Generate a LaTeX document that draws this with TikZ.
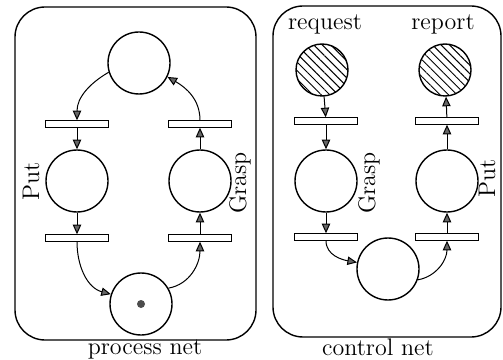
\documentclass[tikz,border=0pt]{standalone}
\usepackage{tikz}
\usetikzlibrary{arrows.meta,patterns.meta}

\begin{document}
\begin{tikzpicture}[
    x=0.5pt, y=0.5pt,
    place/.style={circle, draw, line width=0.7pt, minimum size=31pt, inner sep=0pt},
    extplace/.style={circle, draw, line width=0.7pt, minimum size=26pt, inner sep=0pt,
        pattern={Lines[angle=-45, distance=3pt, line width=0.5pt]}},
    trans/.style={rectangle, draw, fill=white, line width=0.5pt, minimum width=31.5pt, minimum height=3.2pt, inner sep=0pt},
    arc/.style={-{Triangle[length=4.8pt, width=4.2pt, fill=black!60]}, line width=0.5pt},
    net/.style={draw, line width=0.7pt, rounded corners=15pt},
    lbl/.style={font=\fontsize{12}{14}\selectfont}
]
\useasboundingbox (0,0) rectangle (503,359);

% Process net (left)
\draw[net] (15,19) rectangle (256,352);
\node[place] (pT) at (139,296) {};
\node[trans] (tUL) at (77,235) {};
\node[place] (pPut) at (77,178) {};
\node[trans] (tLL) at (77,121) {};
\node[place] (pBot) at (141,55) {};
\node[circle, fill=black!70, minimum size=4pt, inner sep=0pt] (tok) at (pBot) {};
\node[trans] (tUR) at (200,235) {};
\node[place] (pGrasp) at (200,178) {};
\node[trans] (tLR) at (200,121) {};

\node[lbl, rotate=90] (lPut) at (31,178) {Put};
\node[lbl, rotate=90] (lGrasp) at (240,176) {Grasp};
\node[lbl, anchor=base] (lProc) at (145,5) {process net};

% Arcs of the process net
\draw[arc] (pT.197) to[out=210, in=90] (tUL.north);
\draw[arc] (tUL) -- (pPut);
\draw[arc] (pPut) -- (tLL);
\draw[arc] (tLL.south) to[out=-90, in=165] (pBot.162);
\draw[arc] (pBot.30) to[out=10, in=-90] (tLR.south);
\draw[arc] (tLR) -- (pGrasp);
\draw[arc] (pGrasp) -- (tUR);
\draw[arc] (tUR.north) to[out=90, in=-30] (pT.-26);

% Control net (right)
\draw[net] (273,22) rectangle (501,353);
\node[extplace] (pReq) at (322,289) {};
\node[extplace] (pRep) at (445,289) {};
\node[trans] (tA) at (326,238) {};
\node[place] (pG) at (326,178) {};
\node[trans] (tB) at (326,122) {};
\node[trans] (tC) at (447,238) {};
\node[place] (pP) at (447,178) {};
\node[trans] (tD) at (447,122) {};
\node[place] (pMid) at (388,90) {};

\node[lbl, anchor=base] (lReq) at (325,329) {request};
\node[lbl, anchor=base] (lRep) at (443,329) {report};
\node[lbl, rotate=90] (lG) at (369,176) {Grasp};
\node[lbl, rotate=90] (lP) at (487,181) {Put};
\node[lbl, anchor=base] (lCtrl) at (378,4) {control net};

% Arcs of the control net
\draw[arc] (pReq) -- (tA);
\draw[arc] (tA) -- (pG);
\draw[arc] (pG) -- (tB);
\draw[arc] (tB.south) to[out=-90, in=170] (pMid.168);
\draw[arc] (pMid.-20) to[out=10, in=-90] (tD.south);
\draw[arc] (tD) -- (pP);
\draw[arc] (pP) -- (tC);
\draw[arc] (tC) -- (pRep);

\end{tikzpicture}
\end{document}
